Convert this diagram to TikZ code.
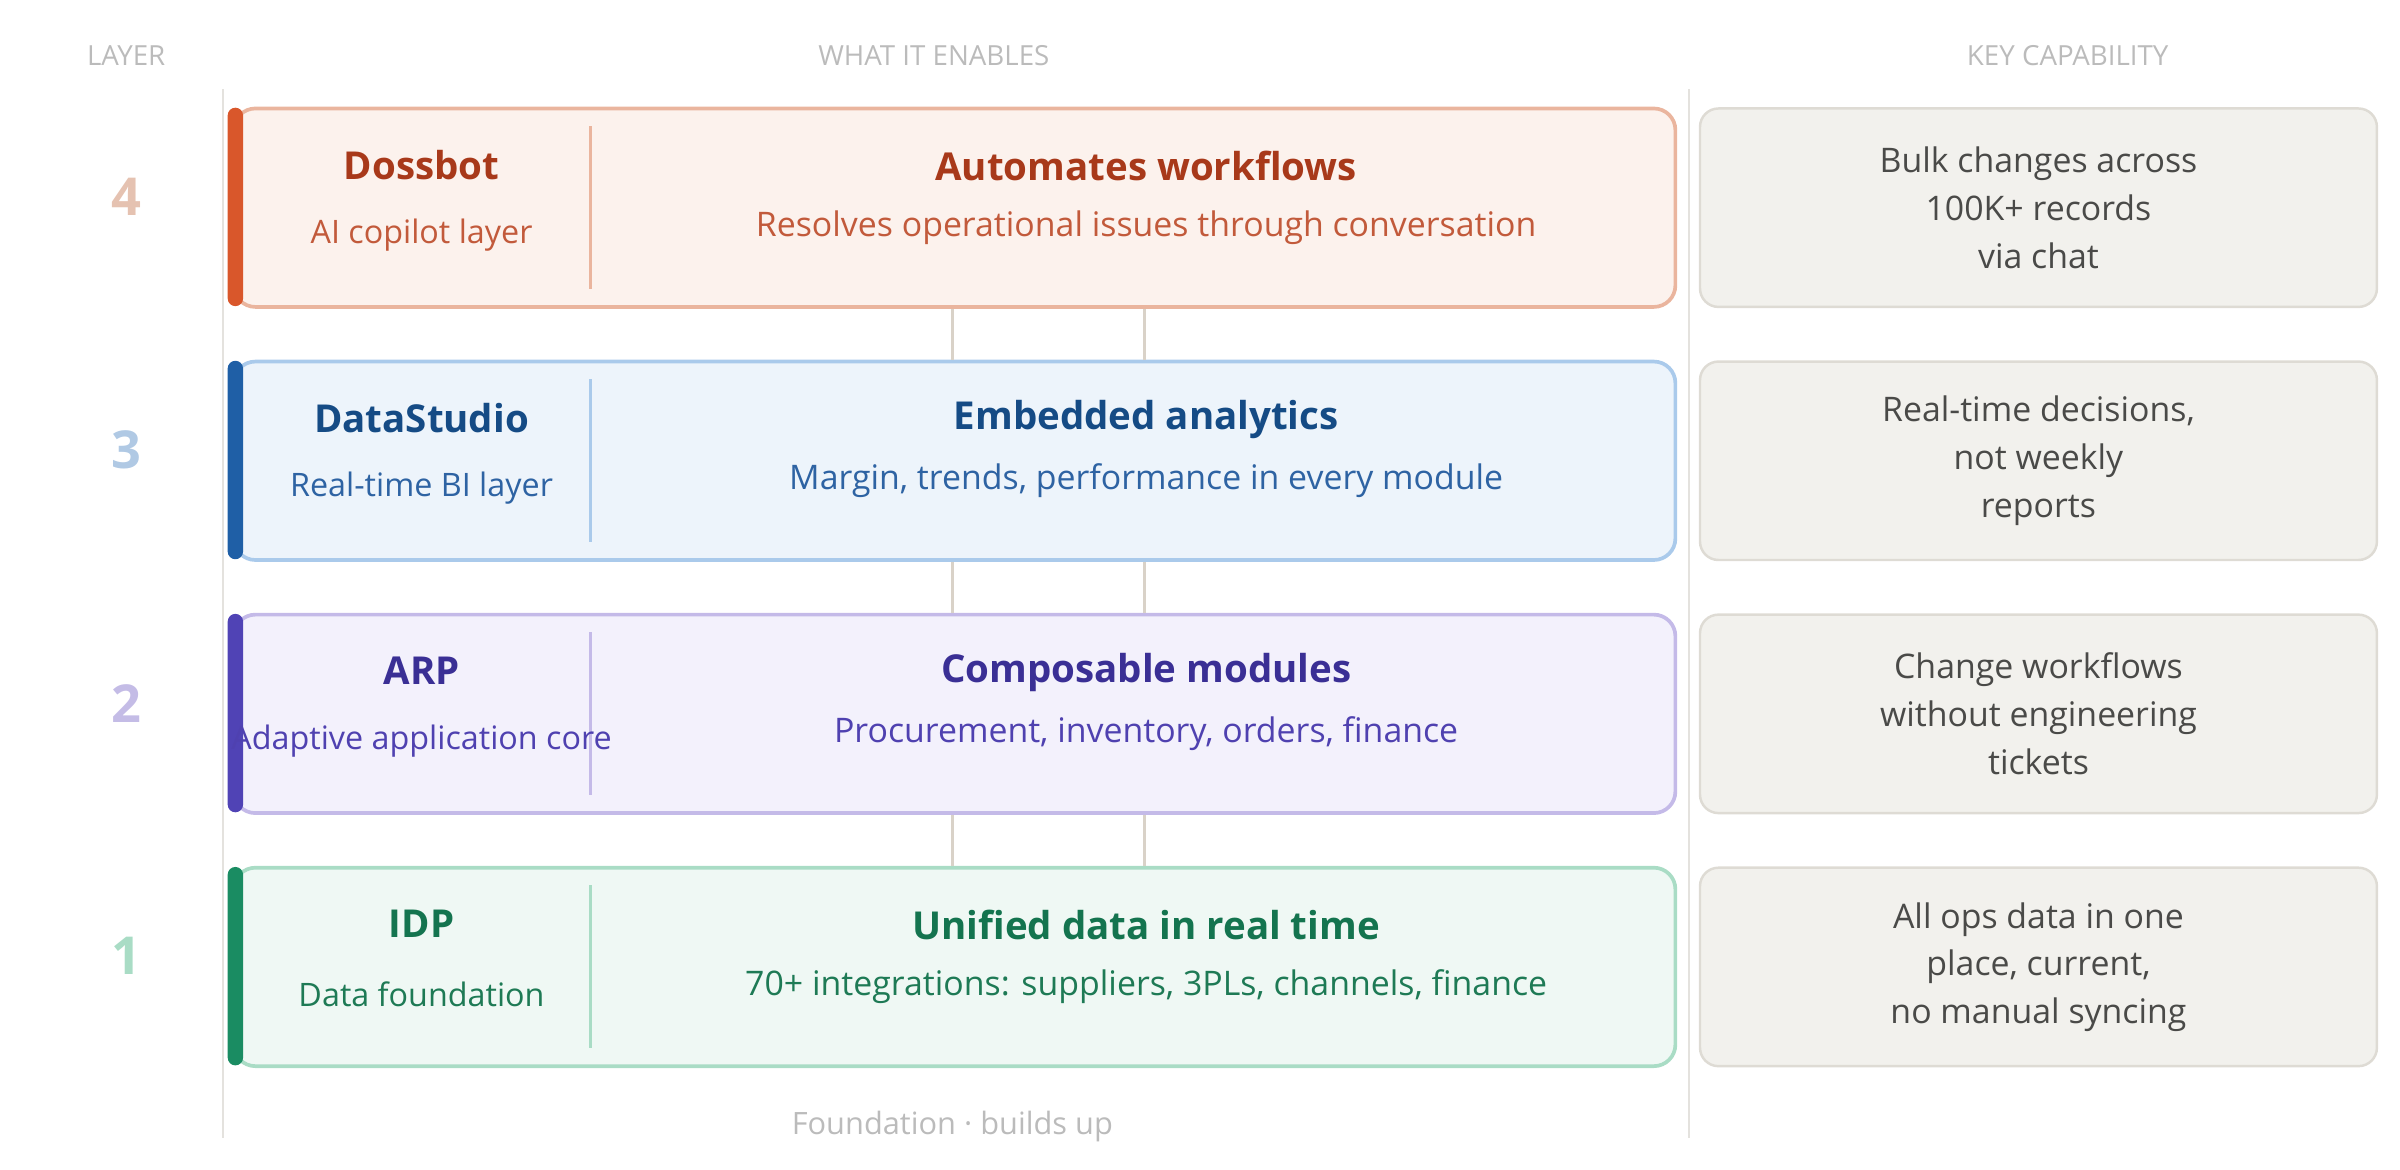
\documentclass[tikz,border=0pt]{standalone}
\usepackage{fontspec}
\setmainfont{Open Sans}
\usetikzlibrary{positioning}

\definecolor{hdrgray}{HTML}{BBBBBB}
\definecolor{rulegray}{HTML}{E4E2DE}
\definecolor{linktan}{HTML}{D9D2C8}
\definecolor{capfill}{HTML}{F2F1ED}
\definecolor{capdraw}{HTML}{DEDBD4}
\definecolor{captext}{HTML}{4A4A48}
% row 4
\definecolor{fillD}{HTML}{FCF2ED}\definecolor{drawD}{HTML}{EAB59E}\definecolor{barD}{HTML}{D9572B}
\definecolor{titleD}{HTML}{A8391A}\definecolor{subD}{HTML}{C25A3B}\definecolor{numD}{HTML}{E5C2B1}
% row 3
\definecolor{fillC}{HTML}{EDF4FB}\definecolor{drawC}{HTML}{AACAEB}\definecolor{barC}{HTML}{1F5FA6}
\definecolor{titleC}{HTML}{154B85}\definecolor{subC}{HTML}{2E63A3}\definecolor{numC}{HTML}{B0C9E4}
% row 2
\definecolor{fillB}{HTML}{F3F1FC}\definecolor{drawB}{HTML}{C4BAE8}\definecolor{barB}{HTML}{5043B5}
\definecolor{titleB}{HTML}{3A2F95}\definecolor{subB}{HTML}{4F41B0}\definecolor{numB}{HTML}{C4BCE6}
% row 1
\definecolor{fillA}{HTML}{EFF8F4}\definecolor{drawA}{HTML}{A9DCC5}\definecolor{barA}{HTML}{1A8C62}
\definecolor{titleA}{HTML}{14744F}\definecolor{subA}{HTML}{1E7A55}\definecolor{numA}{HTML}{A9DCC5}

\tikzset{
  header/.style={text=hdrgray, font=\fontsize{9}{11}\selectfont},
  layerbox/.style={draw=#1, line width=1.2pt, rounded corners=7pt, minimum width=468.5pt, minimum height=64.5pt, inner sep=0pt},
  capbox/.style={draw=capdraw, fill=capfill, line width=0.8pt, rounded corners=6pt, minimum width=220pt, minimum height=64.5pt, inner sep=0pt, text=captext, align=center, font=\fontsize{11}{15.5}\selectfont},
  lname/.style={font=\bfseries\fontsize{12.5}{14}\selectfont},
  lsub/.style={font=\fontsize{10.5}{12}\selectfont},
  ltitle/.style={font=\bfseries\fontsize{12.5}{14}\selectfont},
  lsubtitle/.style={font=\fontsize{11}{13}\selectfont},
  lnum/.style={font=\bfseries\fontsize{17}{19}\selectfont},
  link/.style={draw=linktan, line width=1pt},
}

\begin{document}
\begin{tikzpicture}[x=0.5pt,y=-0.5pt]
\useasboundingbox (0,0) rectangle (1560,760.5);

% headers
\node[header] (hlayer) at (82,36) {LAYER};
\node[header] (henables) at (607,36) {WHAT IT ENABLES};
\node[header] (hcap) at (1344,36) {KEY CAPABILITY};

% column rules
\draw[rulegray, line width=0.6pt] (145,58) -- (145,740);
\draw[rulegray, line width=0.6pt] (1098,58) -- (1098,740);

% rows
\foreach \id/\y/\n/\name/\sub/\title/\subtitle/\cap in {
  D/135/4/Dossbot/AI copilot layer/Automates workflows/Resolves operational issues through conversation/{Bulk changes across\\100K+ records\\via chat},
  C/299.5/3/DataStudio/Real-time BI layer/Embedded analytics/{Margin, trends, performance in every module}/{Real-time decisions,\\not weekly\\reports},
  B/464/2/ARP/Adaptive application core/Composable modules/{Procurement, inventory, orders, finance}/{Change workflows\\without engineering\\tickets},
  A/628.5/1/IDP/Data foundation/Unified data in real time/{70+ integrations: suppliers, 3PLs, channels, finance}/{All ops data in one\\place, current,\\no manual syncing}} {
  \node[layerbox=draw\id, fill=fill\id] (row\id) at (620.5,\y) {};
  \fill[bar\id, rounded corners=2.5pt] (148,\y-65) rectangle (158,\y+64);
  \draw[draw\id, line width=1pt] (384,\y-53) -- (384,\y+53);
  \node[lnum, text=num\id] (num\id) at (82,\y-7) {\n};
  \node[lname, text=title\id] (name\id) at (274,\y-28) {\name};
  \node[lsub, text=sub\id] (sub\id) at (274,\y+18) {\sub};
  \node[ltitle, text=title\id] (title\id) at (745,\y-27) {\title};
  \node[lsubtitle, text=sub\id] (subtitle\id) at (745,\y+13) {\subtitle};
  \node[capbox] (cap\id) at (1325,\y) {\cap};
}

% links between rows
\coordinate (lx1) at (619,0);
\coordinate (lx2) at (744,0);
\foreach \a/\b in {D/C, C/B, B/A} {
  \draw[link] (row\a.south -| lx1) -- (row\b.north -| lx1);
  \draw[link] (row\a.south -| lx2) -- (row\b.north -| lx2);
}

% footer
\node[header, font=\fontsize{10}{12}\selectfont] (foot) at (619,732) {Foundation · builds up};
\end{tikzpicture}
\end{document}
